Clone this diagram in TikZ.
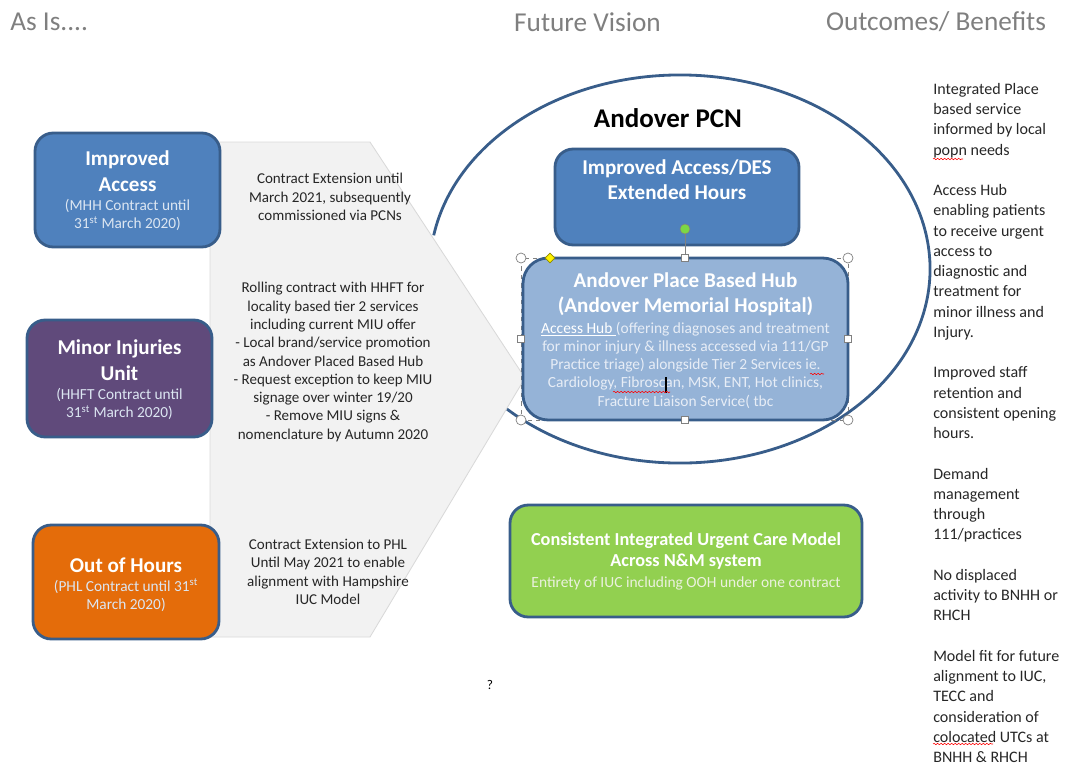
\documentclass[tikz,border=0pt]{standalone}
\usepackage{fontspec}
\setmainfont{Carlito}
\usetikzlibrary{positioning,shapes.geometric,decorations.pathmorphing}

\definecolor{accblue}{HTML}{4F81BD}
\definecolor{edgeblue}{HTML}{385D8A}
\definecolor{miupurple}{HTML}{604A7B}
\definecolor{oohorange}{HTML}{E46C0A}
\definecolor{iucgreen}{HTML}{92D050}
\definecolor{hubblue}{HTML}{95B3D7}
\definecolor{headgray}{HTML}{7F7F7F}
\definecolor{subtext}{HTML}{DCE6F2}
\definecolor{greensub}{HTML}{EBF1DE}
\definecolor{chevgray}{HTML}{F2F2F2}
\definecolor{chevedge}{HTML}{D9D9D9}

\tikzset{
  headtxt/.style={text=headgray, inner sep=0pt, font=\fontsize{19.4}{23}\selectfont},
  srvbox/.style={draw=edgeblue, line width=2pt, rounded corners=13pt, inner sep=0pt},
  boxtitle/.style={text=white, align=center, inner sep=0pt, font=\fontsize{15}{18.3}\selectfont\bfseries},
  boxsub/.style={text=subtext, align=center, inner sep=0pt, font=\fontsize{10.9}{13}\selectfont},
  midtxt/.style={text=black!85, align=center, inner sep=0pt, font=\fontsize{10.7}{13}\selectfont},
  outtxt/.style={text=black!85, align=left, inner sep=0pt, font=\fontsize{11.4}{14.4}\selectfont},
  handlec/.style={circle, draw=gray, fill=white, minimum size=10*0.025cm, inner sep=0pt, line width=0.5pt},
  handles/.style={rectangle, draw=gray, fill=white, minimum size=7*0.025cm, inner sep=0pt, line width=0.5pt},
  spell/.style={red, line width=0.4pt, decorate, decoration={snake, amplitude=0.5pt, segment length=2.5pt}},
}

\begin{document}
\begin{tikzpicture}[x=0.025cm, y=-0.025cm]
  \useasboundingbox (0,0) rectangle (1067,765);

  % column headings
  \node[headtxt, anchor=west] (asis) at (10,22) {As Is....};
  \node[headtxt] (future) at (587.5,22) {Future Vision};
  \node[headtxt] (outcomes) at (936,22) {Outcomes/ Benefits};

  % PCN ellipse: only the part that the chevron does not hide
  \begin{scope}[shift={(680,269)}, x=1cm, y=1cm]
    \draw[edgeblue, line width=2pt] (226:6.25cm and 4.85cm)
      arc[start angle=226, end angle=530, x radius=6.25cm, y radius=4.85cm];
  \end{scope}

  % grey chevron behind the As Is boxes
  \filldraw[fill=chevgray, draw=chevedge, line width=0.6pt]
    (210,142) -- (370,142) -- (525,378) -- (370,637) -- (210,637) -- cycle;

  % As Is boxes
  \node[srvbox, fill=accblue, minimum width=185*0.025cm, minimum height=114*0.025cm] (ia) at (127.5,190) {};
  \node[boxtitle] (ia title) at (127.5,171) {Improved\\Access};
  \node[boxsub] (ia sub) at (127.5,215) {(MHH Contract until\\31\textsuperscript{st} March 2020)};

  \node[srvbox, fill=miupurple, minimum width=185*0.025cm, minimum height=117*0.025cm] (miu) at (119.5,378.5) {};
  \node[boxtitle] (miu title) at (119.5,360.5) {Minor Injuries\\Unit};
  \node[boxsub] (miu sub) at (119.5,404) {(HHFT Contract until\\31\textsuperscript{st} March 2020)};

  \node[srvbox, fill=oohorange, minimum width=186*0.025cm, minimum height=114*0.025cm] (ooh) at (126,582) {};
  \node[boxtitle] (ooh title) at (126,565) {Out of Hours};
  \node[boxsub] (ooh sub) at (126,595.5) {(PHL Contract until 31\textsuperscript{st}\\March 2020)};

  % chevron texts
  \node[midtxt] (ia next) at (330,197) {Contract Extension until\\March 2021,  subsequently\\commissioned via PCNs};
  \node[midtxt] (miu next) at (333,362) {Rolling contract with HHFT for\\locality based tier 2 services\\including  current MIU offer\\ - Local brand/service promotion\\as Andover Placed Based Hub\\- Request exception to keep  MIU\\signage over winter 19/20\\- Remove  MIU signs \&\\nomenclature by Autumn  2020};
  \node[midtxt] (ooh next) at (328,572) {Contract Extension to PHL\\Until May 2021 to enable\\alignment with Hampshire\\IUC Model};

  % Future Vision
  \node[font=\fontsize{19.2}{23}\selectfont\bfseries, inner sep=0pt] (pcn label) at (668,118) {Andover PCN};

  \node[srvbox, fill=accblue, minimum width=244*0.025cm, minimum height=96*0.025cm] (des) at (677,197) {};
  \node[boxtitle, font=\fontsize{15}{18}\selectfont\bfseries] (des title) at (677,180) {Improved Access/DES\\Extended Hours};

  \coordinate (sel nw) at (521,258);
  \coordinate (sel ne) at (848,258);
  \coordinate (sel sw) at (521,420);
  \coordinate (sel se) at (848,420);
  \draw[gray, dashed, line width=0.4pt] (sel nw) rectangle (sel se);

  \node[srvbox, fill=hubblue, rounded corners=18pt, minimum width=325*0.025cm, minimum height=162*0.025cm] (hub) at (685.5,339) {};
  \node[boxtitle, font=\fontsize{15}{17.8}\selectfont\bfseries] (hub title) at (685.5,294.5) {Andover Place Based Hub\\(Andover Memorial  Hospital)};
  \node[boxsub, text=subtext!70!white, font=\fontsize{11}{13}\selectfont] (hub body) at (685.5,365) {\textcolor{white}{\underline{Access Hub }}(offering diagnoses and treatment\\for minor injury \& illness  accessed via 111/GP\\Practice  triage) alongside Tier 2 Services ie.\\Cardiology, Fibroscan, MSK, ENT,  Hot clinics,\\Fracture Liaison Service( tbc};

  % selection handles of the hub box
  \foreach \hc [count=\i] in {sel nw, sel ne, sel sw, sel se}
    \node[handlec] (hc\i) at (\hc) {};
  \foreach \hx/\hy [count=\i] in {685/258, 685/420, 521/339, 848/339}
    \node[handles] (hs\i) at (\hx,\hy) {};
  \node[diamond, fill=yellow, draw=olive, line width=0.4pt, inner sep=0pt, minimum size=10*0.025cm] (adj) at (550,258) {};
  \node[circle, fill=iucgreen!85!green, draw=gray, line width=0.4pt, inner sep=0pt, minimum size=10*0.025cm] (rot) at (685,229) {};
  \draw[gray, line width=0.4pt] (rot) -- (hs1);
  \draw[black, line width=1.2pt] (666,377) -- (666,393);

  \node[srvbox, fill=iucgreen, minimum width=352*0.025cm, minimum height=112*0.025cm] (iuc) at (686,561) {};
  \node[boxtitle, font=\fontsize{13}{15.3}\selectfont\bfseries] (iuc title) at (686,551) {Consistent Integrated  Urgent Care Model\\Across N\&M system};
  \node[boxsub, text=greensub, font=\fontsize{11}{13}\selectfont] (iuc sub) at (686,583) {Entirety of IUC including OOH  under one contract};

  \node[inner sep=0pt, font=\fontsize{9.5}{11}\selectfont] (query) at (490,685) {?};

  % Outcomes / Benefits
  \node[outtxt, anchor=north west] (benefits) at (933,83) {Integrated Place\\based service\\informed  by local\\popn  needs\\[14.4pt]
    Access Hub\\enabling  patients\\to receive urgent\\access to\\diagnostic  and\\treatment  for\\minor  illness  and\\Injury.\\[14.4pt]
    Improved  staff\\retention  and\\consistent  opening\\hours.\\[14.4pt]
    Demand\\management\\through\\111/practices\\[14.4pt]
    No displaced\\activity to BNHH or\\RHCH\\[14.4pt]
    Model fit for future\\alignment to IUC,\\TECC  and\\consideration  of\\colocated UTCs at\\BNHH \& RHCH};

  % spell-check marks
  \draw[spell] (810,374) -- (824,374);
  \draw[spell] (613,392) -- (670,392);
  \draw[spell] (933,159) -- (963,159);
  \draw[spell] (933,744) -- (993,744);
\end{tikzpicture}
\end{document}
